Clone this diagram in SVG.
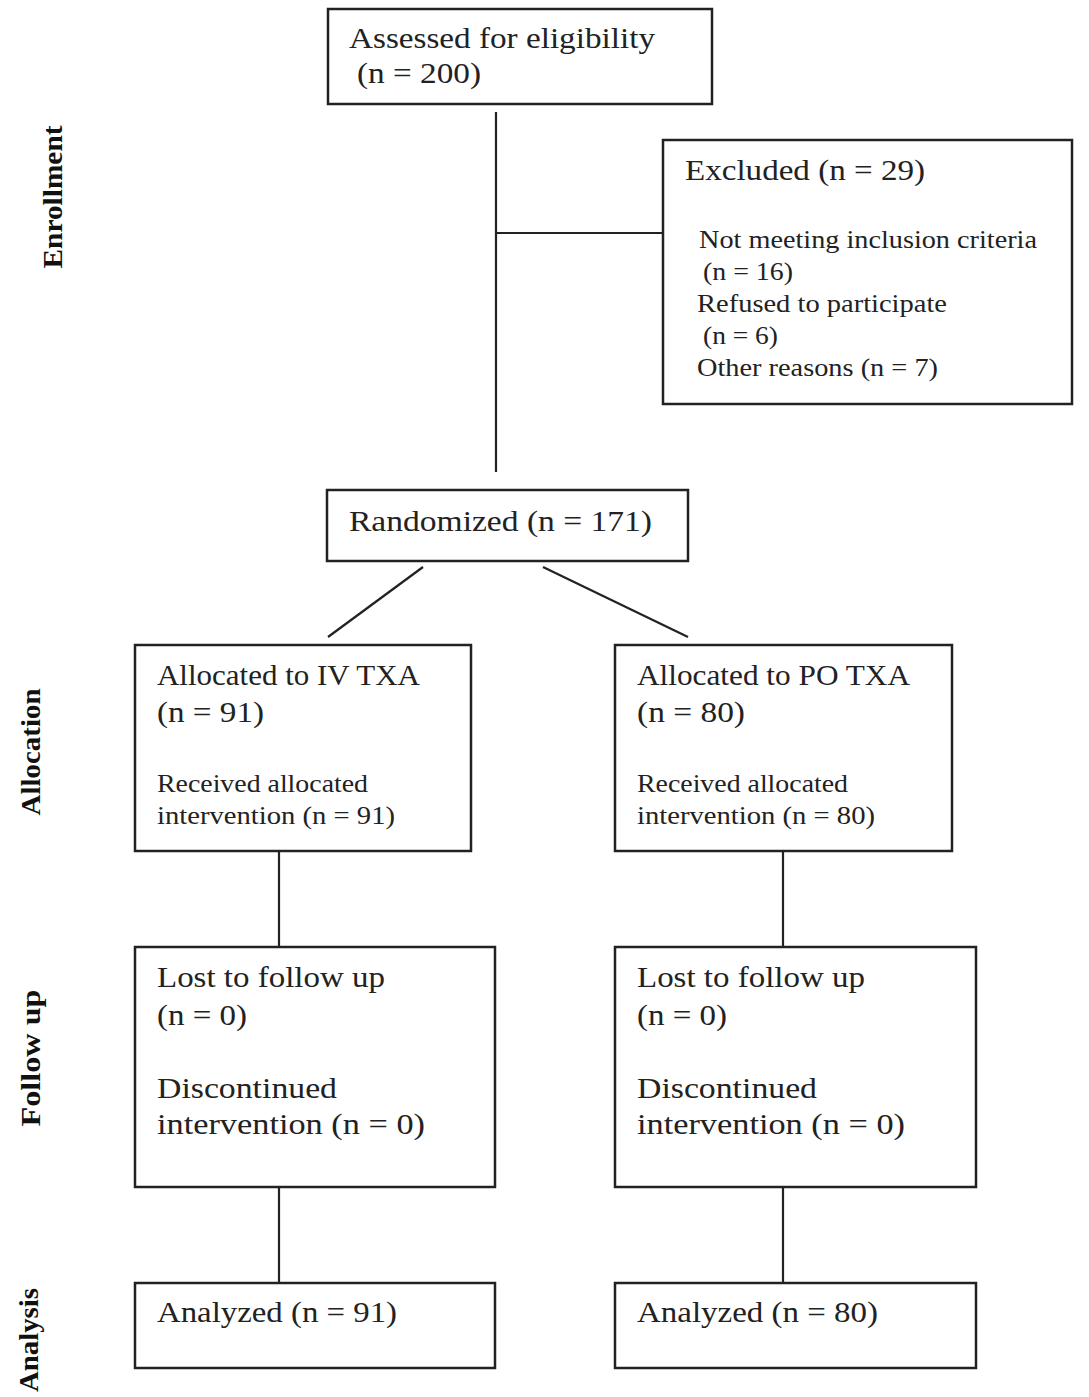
<svg xmlns="http://www.w3.org/2000/svg" width="1089" height="1397" viewBox="0 0 1089 1397">
<style>
.box{fill:#fff;stroke:#222;stroke-width:2.5}
.ln{stroke:#222;stroke-width:2.2;fill:none}
.t{font-family:"Liberation Serif","Times New Roman",serif;font-size:30px;fill:#222}
.s{font-family:"Liberation Serif","Times New Roman",serif;font-size:26px;fill:#222}
.lab{font-family:"Liberation Serif","Times New Roman",serif;font-size:27px;font-weight:bold;fill:#111}
</style>
<rect width="1089" height="1397" fill="#fff"/>
<g id="connectors">
<line class="ln" x1="496" y1="112" x2="496" y2="472"/>
<line class="ln" x1="496" y1="233" x2="663" y2="233"/>
<line class="ln" x1="423" y1="567" x2="328" y2="637"/>
<line class="ln" x1="543" y1="567" x2="688" y2="637"/>
<line class="ln" x1="279" y1="851" x2="279" y2="947"/>
<line class="ln" x1="783" y1="851" x2="783" y2="947"/>
<line class="ln" x1="279" y1="1187" x2="279" y2="1283"/>
<line class="ln" x1="783" y1="1187" x2="783" y2="1283"/>
</g>
<g id="labels">
<text class="lab" transform="translate(62,197) rotate(-90)" text-anchor="middle" textLength="143" lengthAdjust="spacingAndGlyphs">Enrollment</text>
<text class="lab" transform="translate(40,752) rotate(-90)" text-anchor="middle" textLength="127" lengthAdjust="spacingAndGlyphs">Allocation</text>
<text class="lab" transform="translate(40,1058) rotate(-90)" text-anchor="middle" textLength="137" lengthAdjust="spacingAndGlyphs">Follow up</text>
<text class="lab" transform="translate(38,1340) rotate(-90)" text-anchor="middle" textLength="104" lengthAdjust="spacingAndGlyphs">Analysis</text>
</g>
<g id="assessed">
<rect class="box" x="328" y="9" width="384" height="95"/>
<text class="t" x="349" y="48" textLength="306" lengthAdjust="spacingAndGlyphs">Assessed for eligibility</text>
<text class="t" x="357" y="83" textLength="124" lengthAdjust="spacingAndGlyphs">(n = 200)</text>
</g>
<g id="excluded">
<rect class="box" x="663" y="140" width="409" height="264"/>
<text class="t" x="685" y="180" textLength="240" lengthAdjust="spacingAndGlyphs">Excluded (n = 29)</text>
<text class="s" x="699" y="248" textLength="338" lengthAdjust="spacingAndGlyphs">Not meeting inclusion criteria</text>
<text class="s" x="703" y="280" textLength="90" lengthAdjust="spacingAndGlyphs">(n = 16)</text>
<text class="s" x="697" y="312" textLength="250" lengthAdjust="spacingAndGlyphs">Refused to participate</text>
<text class="s" x="703" y="344" textLength="75" lengthAdjust="spacingAndGlyphs">(n = 6)</text>
<text class="s" x="697" y="376" textLength="241" lengthAdjust="spacingAndGlyphs">Other reasons (n = 7)</text>
</g>
<g id="randomized">
<rect class="box" x="327" y="490" width="361" height="71"/>
<text class="t" x="349" y="531" textLength="303" lengthAdjust="spacingAndGlyphs">Randomized (n = 171)</text>
</g>
<g id="alloc-iv">
<rect class="box" x="135" y="645" width="336" height="206"/>
<text class="t" x="157" y="685" textLength="263" lengthAdjust="spacingAndGlyphs">Allocated to IV TXA</text>
<text class="t" x="157" y="722" textLength="107" lengthAdjust="spacingAndGlyphs">(n = 91)</text>
<text class="s" x="157" y="792" textLength="211" lengthAdjust="spacingAndGlyphs">Received allocated</text>
<text class="s" x="157" y="824" textLength="238" lengthAdjust="spacingAndGlyphs">intervention (n = 91)</text>
</g>
<g id="alloc-po">
<rect class="box" x="615" y="645" width="337" height="206"/>
<text class="t" x="637" y="685" textLength="273" lengthAdjust="spacingAndGlyphs">Allocated to PO TXA</text>
<text class="t" x="637" y="722" textLength="108" lengthAdjust="spacingAndGlyphs">(n = 80)</text>
<text class="s" x="637" y="792" textLength="211" lengthAdjust="spacingAndGlyphs">Received allocated</text>
<text class="s" x="637" y="824" textLength="238" lengthAdjust="spacingAndGlyphs">intervention (n = 80)</text>
</g>
<g id="followup-iv">
<rect class="box" x="135" y="947" width="360" height="240"/>
<text class="t" x="157" y="987" textLength="228" lengthAdjust="spacingAndGlyphs">Lost to follow up</text>
<text class="t" x="157" y="1025" textLength="90" lengthAdjust="spacingAndGlyphs">(n = 0)</text>
<text class="t" x="157" y="1098" textLength="180" lengthAdjust="spacingAndGlyphs">Discontinued</text>
<text class="t" x="157" y="1134" textLength="268" lengthAdjust="spacingAndGlyphs">intervention (n = 0)</text>
</g>
<g id="followup-po">
<rect class="box" x="615" y="947" width="361" height="240"/>
<text class="t" x="637" y="987" textLength="228" lengthAdjust="spacingAndGlyphs">Lost to follow up</text>
<text class="t" x="637" y="1025" textLength="90" lengthAdjust="spacingAndGlyphs">(n = 0)</text>
<text class="t" x="637" y="1098" textLength="180" lengthAdjust="spacingAndGlyphs">Discontinued</text>
<text class="t" x="637" y="1134" textLength="268" lengthAdjust="spacingAndGlyphs">intervention (n = 0)</text>
</g>
<g id="analysis-iv">
<rect class="box" x="135" y="1283" width="360" height="85"/>
<text class="t" x="157" y="1322" textLength="240" lengthAdjust="spacingAndGlyphs">Analyzed (n = 91)</text>
</g>
<g id="analysis-po">
<rect class="box" x="615" y="1283" width="361" height="85"/>
<text class="t" x="637" y="1322" textLength="241" lengthAdjust="spacingAndGlyphs">Analyzed (n = 80)</text>
</g>
</svg>
